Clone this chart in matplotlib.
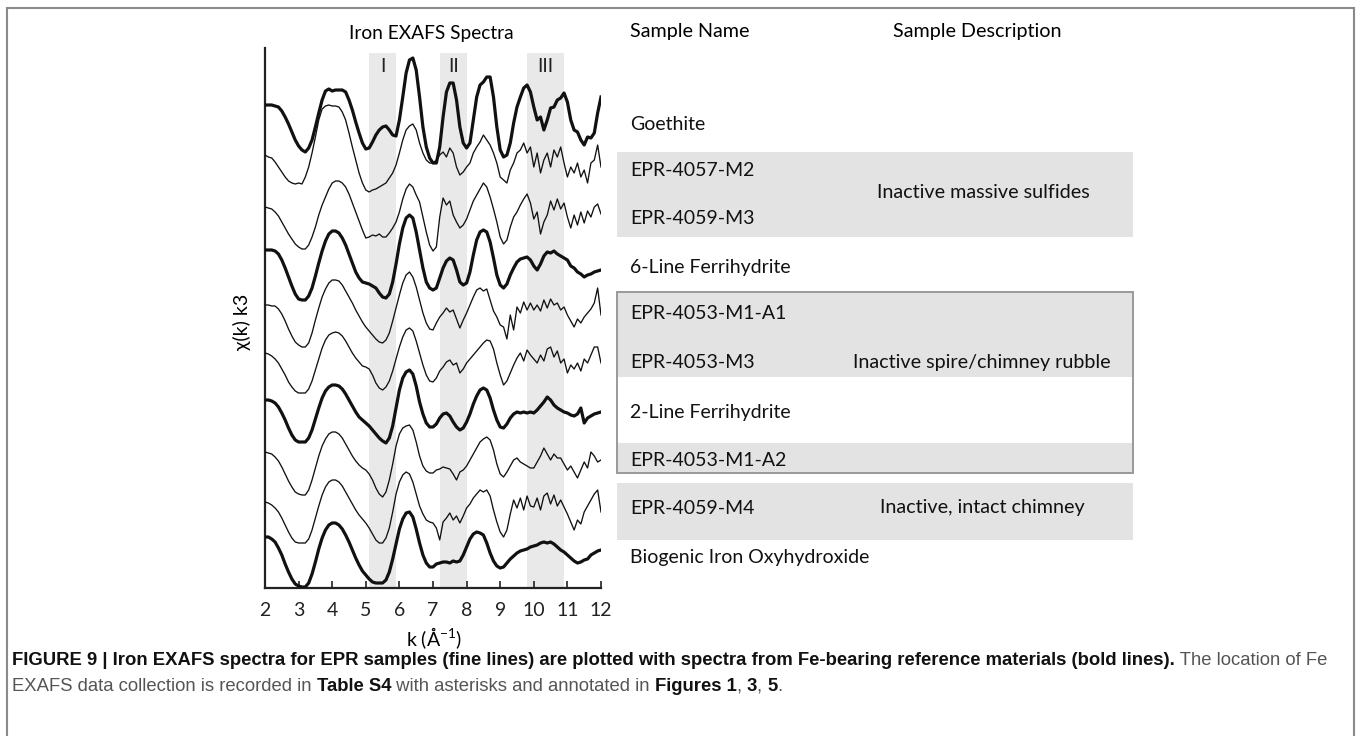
import numpy as np
import matplotlib
matplotlib.use("Agg")
import matplotlib.pyplot as plt
from matplotlib.patches import Rectangle

W, H = 1358, 736

# wavenumber grid (1/Å)
k = np.linspace(2, 12, 101)

# spectra (relative to each trace's own baseline)
goethite = [0, 0, 0, -1, -2, -6, -12, -19, -27, -35,
            -41, -45, -47, -43, -35, -22, -8, 5, 14, 16,
            14, 15, 15, 15, 13, 5, -5, -17, -28, -38,
            -44, -43, -37, -30, -25, -22, -21, -25, -30, -31,
            -15, 8, 32, 45, 47, 35, 8, -22, -42, -53,
            -58, -58, -42, -12, 13, 22, 22, 5, -22, -38,
            -43, -38, -15, 8, 20, 23, 28, 28, 8, -22,
            -45, -52, -50, -38, -18, -2, 8, 17, 20, 13,
            -2, -15, -12, -25, -15, -3, -2, 5, 7, 12,
            3, -15, -25, -27, -35, -40, -32, -33, -28, -8,
            8]
epr_4057_m2 = [0, -2, -3, -7, -12, -17, -22, -26, -28, -29,
               -28, -29, -22, -12, 2, 18, 35, 46, 49, 50,
               49, 49, 48, 43, 35, 22, 8, -5, -18, -28,
               -35, -37, -35, -34, -32, -30, -28, -23, -18, -10,
               2, 15, 25, 29, 31, 25, 12, 2, -5, -8,
               -8, -5, 0, 3, -2, 7, 2, -12, -20, -17,
               -12, -8, 2, 8, 13, 20, 15, 10, 2, -8,
               -22, -25, -28, -15, -8, 2, 5, 12, 2, 8,
               -12, 2, -18, -5, 2, -12, 5, -2, 8, -8,
               -22, -12, -18, -8, -22, -15, -28, -8, -5, 10,
               -12]
epr_4059_m3 = [0, -1, -2, -5, -9, -15, -21, -27, -32, -37,
               -40, -42, -42, -38, -30, -20, -8, 2, 10, 18,
               24, 26, 26, 24, 20, 13, 4, -5, -14, -23,
               -31, -30, -28, -29, -27, -30, -30, -26, -21, -15,
               -5, 8, 18, 23, 20, 12, 5, -10, -25, -38,
               -44, -40, -10, 9, 2, 6, -8, -15, -21, -18,
               -12, -3, 6, 12, 18, 24, 20, 10, -2, -15,
               -30, -37, -33, -20, -10, -5, 2, 8, 13, 4,
               -12, -5, -27, -15, -8, 6, -3, 8, -2, 4,
               -10, -21, -8, -18, -5, -16, -4, -10, 0, 3,
               -7]
ferrihydrite_6l = [0, 0, 0, -1, -4, -10, -18, -27, -36, -44,
                   -49, -50, -50, -46, -38, -26, -13, -1, 9, 16,
                   19, 19, 17, 12, 5, -4, -13, -22, -28, -32,
                   -33, -34, -36, -38, -43, -47, -48, -44, -32, -14,
                   6, 22, 32, 35, 32, 18, 0, -18, -32, -38,
                   -40, -38, -28, -18, -11, -8, -10, -20, -32, -35,
                   -33, -22, -5, 10, 18, 20, 18, 8, -8, -25,
                   -35, -38, -34, -25, -18, -12, -9, -8, -7, -10,
                   -16, -20, -14, -6, -2, -3, -1, -4, -6, -8,
                   -10, -16, -18, -22, -24, -27, -25, -24, -22, -21,
                   -20]
epr_4053_m1_a1 = [0, 0, -1, -1, -4, -9, -16, -24, -31, -37,
                  -40, -42, -42, -38, -28, -15, -3, 8, 16, 22,
                  25, 25, 24, 20, 14, 8, 2, -5, -11, -17,
                  -22, -26, -30, -34, -37, -38, -35, -28, -16, -3,
                  10, 22, 30, 33, 28, 18, 5, -8, -18, -24,
                  -25, -18, -12, -8, -3, -7, -5, -14, -23, -15,
                  -8, 0, 8, 15, 17, 14, 16, 5, -6, -12,
                  -20, -22, -34, -10, -25, -2, -8, 3, -5, 2,
                  -5, 0, -6, 5, -3, 6, 0, 2, -5, -2,
                  -10, -16, -22, -14, -18, -12, -8, -4, 2, 17,
                  -10]
epr_4053_m3 = [0, -1, -3, -6, -10, -16, -22, -29, -34, -38,
               -40, -40, -40, -36, -28, -17, -6, 5, 13, 18,
               20, 21, 20, 17, 12, 6, 0, -5, -9, -13,
               -14, -16, -22, -30, -35, -37, -34, -28, -18, -6,
               6, 16, 23, 25, 22, 12, 0, -12, -22, -28,
               -29, -25, -18, -14, -9, -7, -12, -10, -20, -16,
               -10, -6, -2, 2, 6, 10, 13, 12, 4, -10,
               -22, -32, -28, -20, -12, -5, 0, -8, 3, -2,
               -6, -10, -2, -8, 4, 6, -4, 2, -10, -6,
               -20, -12, -16, -10, -18, -6, -10, -2, 6, 6,
               -10]
ferrihydrite_2l = [0, 0, -1, -3, -7, -13, -20, -28, -35, -40,
                   -42, -42, -42, -38, -30, -19, -8, 2, 9, 13,
                   15, 15, 14, 11, 6, 0, -6, -12, -17, -20,
                   -23, -26, -30, -34, -38, -41, -43, -38, -26, -8,
                   10, 22, 28, 30, 26, 14, -2, -14, -23, -27,
                   -27, -24, -18, -14, -13, -16, -22, -27, -30, -28,
                   -22, -14, -4, 4, 10, 12, 10, 2, -10, -20,
                   -27, -28, -24, -18, -14, -12, -13, -12, -13, -12,
                   -13, -10, -6, -2, 3, 0, -5, -8, -10, -12,
                   -13, -15, -16, -14, -8, -23, -18, -16, -14, -13,
                   -12]
epr_4053_m1_a2 = [0, -1, -2, -5, -9, -15, -22, -29, -35, -40,
                  -42, -43, -43, -38, -28, -16, -4, 6, 13, 18,
                  20, 20, 18, 14, 8, 2, -4, -9, -13, -16,
                  -18, -22, -28, -36, -42, -45, -40, -28, -12, 6,
                  18, 24, 26, 27, 22, 10, -4, -14, -19, -21,
                  -21, -18, -17, -15, -16, -17, -22, -28, -20, -18,
                  -14, -8, -2, 4, 10, 13, 15, 12, 2, -12,
                  -22, -25, -20, -14, -8, -6, -10, -12, -14, -16,
                  -16, -10, -4, 4, -2, -8, -2, -6, -6, -12,
                  -18, -14, -20, -26, -18, -10, -16, 0, -4, -10,
                  -8]
epr_4059_m4 = [0, -1, -3, -6, -10, -16, -23, -30, -36, -40,
               -41, -41, -41, -37, -28, -16, -4, 7, 15, 20,
               22, 22, 20, 16, 10, 4, -2, -8, -13, -17,
               -21, -26, -32, -38, -41, -41, -36, -26, -10, 8,
               20, 27, 30, 28, 20, 8, -4, -12, -18, -20,
               -21, -26, -38, -20, -16, -11, -18, -14, -21, -14,
               -6, -2, 4, 8, 12, 10, 12, 6, -8, -20,
               -30, -35, -28, -12, 2, -6, 4, -8, 6, -4,
               -5, 4, -8, 6, 9, -2, 7, -4, 2, -5,
               -12, -20, -28, -18, -22, -10, -4, 2, 8, 12,
               -10]
biogenic_oxyhydroxide = [0, 0, -2, -5, -11, -18, -27, -35, -42, -47,
                         -49, -50, -50, -46, -37, -25, -12, -1, 7, 12,
                         14, 14, 12, 8, 2, -5, -13, -21, -28, -34,
                         -38, -42, -45, -46, -46, -46, -43, -35, -22, -7,
                         8, 18, 24, 25, 20, 8, -6, -18, -26, -30,
                         -30, -27, -26, -25, -25, -26, -24, -25, -24, -18,
                         -10, -2, 3, 5, 4, 2, -6, -16, -24, -29,
                         -31, -30, -26, -22, -19, -16, -14, -13, -12, -10,
                         -9, -8, -6, -5, -6, -5, -7, -10, -13, -15,
                         -18, -21, -24, -26, -25, -23, -22, -18, -16, -14,
                         -13]

spectra = [goethite, epr_4057_m2, epr_4059_m3, ferrihydrite_6l, epr_4053_m1_a1,
           epr_4053_m3, ferrihydrite_2l, epr_4053_m1_a2, epr_4059_m4, biogenic_oxyhydroxide]
sample_names = ["Goethite", "EPR-4057-M2", "EPR-4059-M3", "6-Line Ferrihydrite",
                "EPR-4053-M1-A1", "EPR-4053-M3", "2-Line Ferrihydrite",
                "EPR-4053-M1-A2", "EPR-4059-M4", "Biogenic Iron Oxyhydroxide"]
is_reference = [True, False, False, True, False, False, True, False, False, True]
offsets = [483, 433, 381, 338, 283, 235, 188, 136, 86, 51]

bands = [(5.1, 5.9), (7.2, 8.0), (9.8, 10.9)]
band_labels = ["I", "II", "III"]

descriptions = ["Inactive massive sulfides", "Inactive spire/chimney rubble",
                "Inactive, intact chimney"]

# layout of the right-hand table, in pixels of the picture
name_y = [125, 170, 219, 267, 314, 362, 412, 460, 509, 558]
desc_pos = [(877, 193), (853, 363), (880, 508)]


def fx(x):
    return x / W


def fy(y):
    return 1 - y / H


plt.rcParams['font.family'] = ['Lato', 'DejaVu Sans']

fig = plt.figure(figsize=(W / 100, H / 100), dpi=100)
ax = fig.add_axes([fx(265), fy(588), fx(601) - fx(265), (588 - 48) / H])

for (k0, k1), lab in zip(bands, band_labels):
    ax.axvspan(k0, k1, ymin=0, ymax=535 / 540, color='#e9e9e9', lw=0, zorder=0)
    ax.text((k0 + k1) / 2, 521, lab, ha='center', va='center', fontsize=13.5, color='#222')

for vals, off, ref in zip(spectra, offsets, is_reference):
    ax.plot(k, np.array(vals) + off, color='#111', lw=2.3 if ref else 0.95,
            solid_joinstyle='round', zorder=3)

ax.set_xlim(2, 12)
ax.set_ylim(0, 540)
ax.set_xticks(range(2, 13))
ax.set_yticks([])
ax.tick_params(axis='x', direction='in', length=5, width=1.2, labelsize=14, pad=10, colors='#222')
for s in ['top', 'right']:
    ax.spines[s].set_visible(False)
for s in ['left', 'bottom']:
    ax.spines[s].set_linewidth(1.6)
    ax.spines[s].set_color('#222')
ax.set_facecolor('none')

fig.text(fx(434), fy(638), r'k (Å$^{\mathregular{-1}}$)', ha='center', va='center', fontsize=14)
fig.text(fx(242), fy(322), 'χ(k) k3', rotation=90, ha='center', va='center', fontsize=14)

# headers
fig.text(fx(431), fy(33), 'Iron EXAFS Spectra', ha='center', va='center', fontsize=13.8)
fig.text(fx(630), fy(32), 'Sample Name', ha='left', va='center', fontsize=14.2)
fig.text(fx(977), fy(32), 'Sample Description', ha='center', va='center', fontsize=14.2)

# grey group boxes
box_fill = '#e3e3e3'
for top, bot in [(152, 237), (292, 377), (443, 473), (483, 540)]:
    fig.add_artist(Rectangle((fx(617), fy(bot)), fx(1133) - fx(617), (bot - top) / H,
                             transform=fig.transFigure, facecolor=box_fill, edgecolor='none',
                             zorder=0))
fig.add_artist(Rectangle((fx(617), fy(473)), fx(1133) - fx(617), (473 - 292) / H,
                         transform=fig.transFigure, facecolor='none', edgecolor='#9a9a9a',
                         lw=1.4, zorder=1))

for name, y in zip(sample_names, name_y):
    fig.text(fx(630), fy(y), name, ha='left', va='center', fontsize=14, color='#111')
for desc, (x, y) in zip(descriptions, desc_pos):
    fig.text(fx(x), fy(y), desc, ha='left', va='center', fontsize=14.2, color='#111')

# outer frame
fig.add_artist(Rectangle((fx(7), -0.05), fx(1354) - fx(7), fy(8) + 0.05,
                         transform=fig.transFigure, facecolor='none', edgecolor='#8a8a8a',
                         lw=1.5))

# caption with mixed weights, laid out piece by piece on a shared baseline
cap_font = ['Liberation Sans Narrow', 'Liberation Sans', 'DejaVu Sans']
lines = [
    [("FIGURE 9 | Iron EXAFS spectra for EPR samples (fine lines) are plotted with spectra "
      "from Fe-bearing reference materials (bold lines).", 'bold'),
     (" The location of Fe", 'normal')],
    [("EXAFS data collection is recorded in ", 'normal'), ("Table S4", 'bold'),
     (" with asterisks and annotated in ", 'normal'), ("Figures 1", 'bold'),
     (", ", 'normal'), ("3", 'bold'), (", ", 'normal'), ("5", 'bold'), (".", 'normal')],
]
renderer = fig.canvas.get_renderer()
for line, y in zip(lines, [665, 691]):
    x = fx(12)
    for txt, weight in line:
        col = '#111' if weight == 'bold' else '#555'
        t = fig.text(x, fy(y), txt, ha='left', va='baseline', fontsize=13.3,
                     fontweight=weight, family=cap_font, color=col)
        x += t.get_window_extent(renderer=renderer).width / W

fig.savefig('out.png', dpi=100)
